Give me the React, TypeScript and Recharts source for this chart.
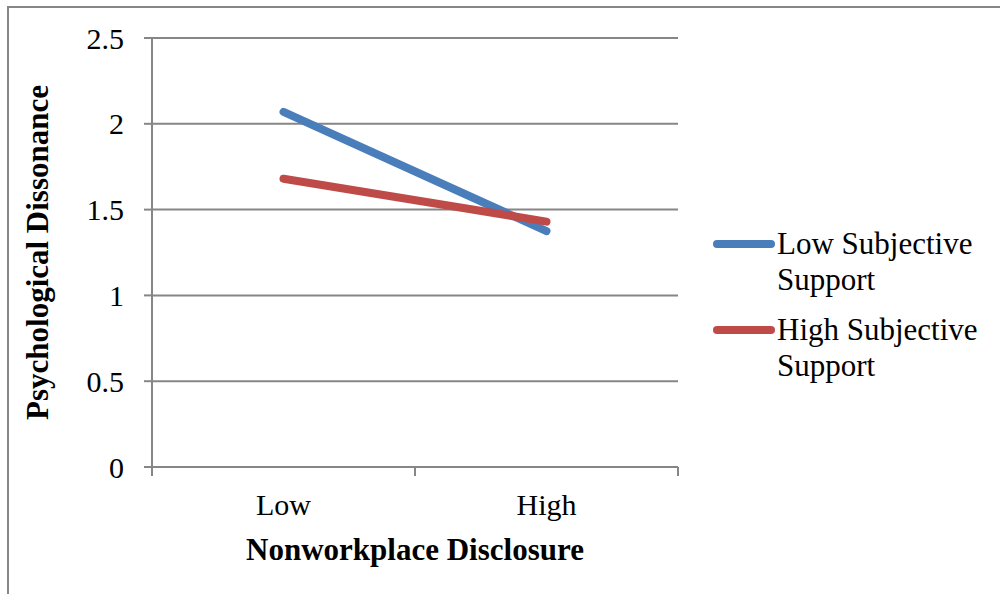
import { LineChart, Line, XAxis, YAxis, CartesianGrid, Label } from "recharts";

const categories = ["Low", "High"];
const lowSupport = [2.07, 1.375];
const highSupport = [1.68, 1.43];
const yTicks = [0, 0.5, 1, 1.5, 2, 2.5];

const seriesInfo = [
  { key: "low", name: "Low Subjective", name2: "Support", color: "#4a7ebb" },
  { key: "high", name: "High Subjective", name2: "Support", color: "#be4b48" },
];

const data = categories.map((c, i) => ({
  x: i + 0.5,
  cat: c,
  low: lowSupport[i],
  high: highSupport[i],
}));

const FONT = "'Liberation Serif', 'Times New Roman', serif";
const GREY = "#868686";

const XTick = (props: any) => {
  const { x, y, payload } = props;
  const v = payload.value;
  if (Number.isInteger(v)) {
    return <line x1={x} x2={x} y1={y} y2={y + 9} stroke={GREY} strokeWidth={2} />;
  }
  const idx = Math.floor(v);
  return (
    <text x={x} y={y + 48} textAnchor="middle" fontFamily={FONT} fontSize={30} fill="#000">
      {categories[idx]}
    </text>
  );
};

// legend drawn as plain html next to the plot
const LegendBox = () => (
  <div
    style={{
      position: "absolute",
      left: 713,
      top: 226,
      width: 285,
      fontFamily: FONT,
      fontSize: 31,
      lineHeight: "36px",
      color: "#000",
    }}
  >
    {seriesInfo.map((s) => (
      <div key={s.key} style={{ display: "flex", marginBottom: 14 }}>
        <div
          style={{
            width: 62,
            height: 8,
            borderRadius: 4,
            background: s.color,
            marginTop: 14,
            marginRight: 2,
          }}
        />
        <div>
          {s.name}
          <br />
          {s.name2}
        </div>
      </div>
    ))}
  </div>
);

export default function App() {
  return (
    <div style={{ position: "absolute", left: 0, top: 0, width: 1000, height: 594, background: "#fff" }}>
      <div
        style={{
          position: "absolute",
          left: 7,
          top: 6,
          width: 993,
          height: 588,
          borderLeft: `2px solid ${GREY}`,
          borderTop: `2px solid ${GREY}`,
        }}
      />
      <LineChart width={1000} height={594} data={data} margin={{ top: 38, right: 322, bottom: 0, left: 0 }}>
        <CartesianGrid vertical={false} stroke={GREY} strokeWidth={2} />
        <XAxis
          dataKey="x"
          type="number"
          domain={[0, 2]}
          ticks={[0, 0.5, 1, 1.5, 2]}
          interval={0}
          height={127}
          tickSize={0}
          tickMargin={0}
          tickLine={false}
          axisLine={{ stroke: GREY, strokeWidth: 2 }}
          tick={<XTick />}
        >
          <Label
            content={(p: any) => {
              const vb = p.viewBox;
              return (
                <text
                  x={vb.x + vb.width / 2}
                  y={vb.y + 93}
                  textAnchor="middle"
                  fontFamily={FONT}
                  fontWeight="bold"
                  fontSize={31}
                  fill="#000"
                >
                  Nonworkplace Disclosure
                </text>
              );
            }}
          />
        </XAxis>
        <YAxis
          width={152}
          domain={[0, 2.5]}
          ticks={yTicks}
          interval={0}
          tickSize={8}
          tickMargin={20}
          tickLine={{ stroke: GREY, strokeWidth: 2 }}
          axisLine={{ stroke: GREY, strokeWidth: 2 }}
          tick={{ fontFamily: FONT, fontSize: 30, fill: "#000" }}
        >
          <Label
            content={(p: any) => {
              const vb = p.viewBox;
              const cx = 37;
              const cy = vb.y + vb.height / 2;
              return (
                <text
                  x={cx}
                  y={cy}
                  transform={`rotate(-90 ${cx} ${cy})`}
                  textAnchor="middle"
                  dominantBaseline="central"
                  fontFamily={FONT}
                  fontWeight="bold"
                  fontSize={31}
                  fill="#000"
                >
                  Psychological Dissonance
                </text>
              );
            }}
          />
        </YAxis>
        {seriesInfo.map((s) => (
          <Line
            key={s.key}
            dataKey={s.key}
            name={s.name}
            stroke={s.color}
            strokeWidth={8}
            strokeLinecap="round"
            dot={false}
            activeDot={false}
            isAnimationActive={false}
          />
        ))}
      </LineChart>
      <LegendBox />
    </div>
  );
}
